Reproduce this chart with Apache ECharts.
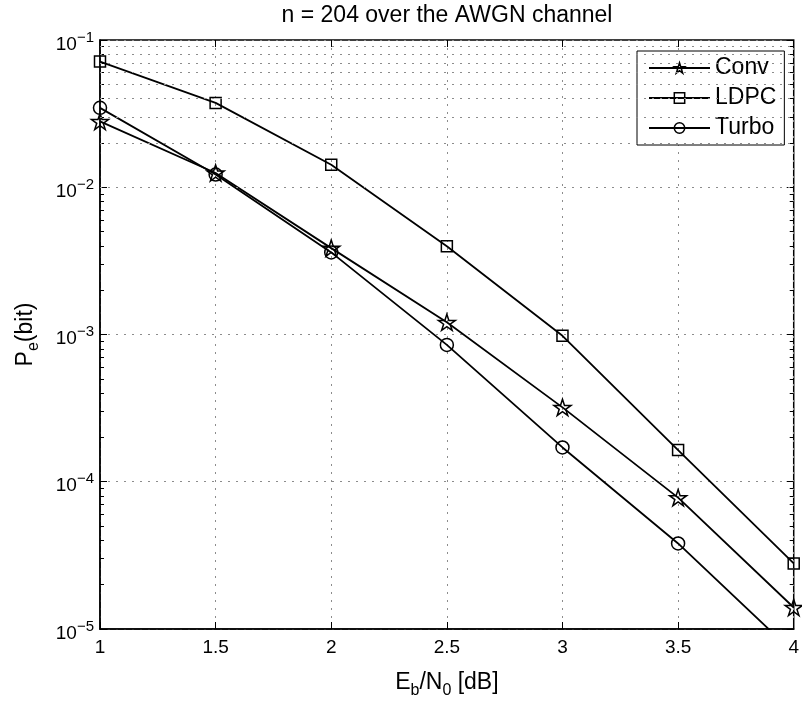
<!DOCTYPE html>
<html>
<head>
<meta charset="utf-8">
<title>n = 204 over the AWGN channel</title>
<script src="https://cdn.jsdelivr.net/npm/echarts@6/dist/echarts.min.js"></script>
<style>
  html, body { margin: 0; padding: 0; background: #fff; }
  #chart { width: 802px; height: 706px; }
</style>
</head>
<body>
<div id="chart"></div>
<script>
// Eb/N0 in dB
var ebn0 = [1, 1.5, 2, 2.5, 3, 3.5, 4];
// bit error probability per code
var convBer = [0.028, 0.0125, 0.00386, 0.00121, 3.2e-4, 7.8e-5, 1.4e-5];
var ldpcBer = [0.0714, 0.0374, 0.0142, 0.00397, 9.8e-4, 1.64e-4, 2.79e-5];
var turboBer = [0.0346, 0.0122, 0.00361, 8.5e-4, 1.71e-4, 3.81e-5, 6.9e-6];
var decadeExps = [-5, -4, -3, -2];

// minor log positions 2..9 x 10^k
var minorVals = [];
decadeExps.forEach(function (k) {
  for (var m = 2; m <= 9; m++) {
    minorVals.push(+(m * Math.pow(10, k)).toPrecision(3));
  }
});

function pairs(ys) {
  return ebn0.map(function (x, i) { return [x, ys[i]]; });
}

var star = 'path://M50,0L61.23,34.55L97.55,34.55L68.17,55.9L79.39,90.45L50,69.1L20.61,90.45L31.83,55.9L2.45,34.55L38.77,34.55Z';
var hollow = { color: 'rgba(0,0,0,0)', borderColor: '#000', borderWidth: 1.5 };
var blackLine = { color: '#000', width: 1.8, type: 'solid' };
var dotted = { color: '#8c8c8c', width: 1, type: [2, 6] };

var chart = echarts.init(document.getElementById('chart'));

var option = {
  animation: false,
  backgroundColor: '#fff',
  textStyle: { fontFamily: 'Liberation Sans, Arial, sans-serif', color: '#000' },
  title: {
    text: 'n = 204 over the AWGN channel',
    left: 447,
    top: 4,
    padding: 0,
    textAlign: 'center',
    textStyle: { fontSize: 23, fontWeight: 'normal', color: '#000' }
  },
  legend: {
    orient: 'vertical',
    left: 637,
    top: 51,
    padding: [5, 8, 5, 11],
    itemWidth: 61,
    itemHeight: 13,
    itemGap: 6,
    borderColor: '#000',
    borderWidth: 1,
    backgroundColor: '#fff',
    itemStyle: { color: 'rgba(0,0,0,0)', borderColor: '#000', borderWidth: 1.5 },
    lineStyle: { color: '#000', width: 2, type: 'solid' },
    textStyle: { fontSize: 23, lineHeight: 24, color: '#000' },
    data: ['Conv', 'LDPC', 'Turbo']
  },
  grid: {
    left: 100,
    right: 7,
    top: 40,
    bottom: 77,
    show: true,
    borderColor: '#000',
    borderWidth: 1.5,
    backgroundColor: 'rgba(0,0,0,0)'
  },
  xAxis: [
    {
      type: 'value',
      min: 1,
      max: 4,
      interval: 0.5,
      name: '{a|E}{sub|b}{a|/N}{sub|0}{a| [dB]}',
      nameLocation: 'middle',
      nameGap: 42,
      nameTextStyle: {
        rich: {
          a: { fontSize: 23, lineHeight: 26, verticalAlign: 'top', color: '#000' },
          sub: { fontSize: 16, lineHeight: 16, padding: [12, 0, 0, 0], verticalAlign: 'top', color: '#000' }
        }
      },
      axisLine: { show: true, lineStyle: { color: '#000', width: 1.5 } },
      axisTick: { inside: true, length: 7, lineStyle: { color: '#000', width: 1 } },
      axisLabel: { fontSize: 19, margin: 9, color: '#000' },
      splitLine: { show: true, lineStyle: dotted }
    },
    {
      type: 'value',
      position: 'top',
      min: 1,
      max: 4,
      interval: 0.5,
      axisLine: { show: false },
      axisTick: { inside: true, length: 7, lineStyle: { color: '#000', width: 1 } },
      axisLabel: { show: false },
      splitLine: { show: false }
    }
  ],
  yAxis: [
    {
      type: 'log',
      logBase: 10,
      min: 1e-5,
      max: 1e-1,
      name: '{a|P}{sub|e}{a|(bit)}',
      nameLocation: 'middle',
      nameGap: 60,
      nameTextStyle: {
        rich: {
          a: { fontSize: 23, lineHeight: 26, verticalAlign: 'top', color: '#000' },
          sub: { fontSize: 16, lineHeight: 16, padding: [12, 0, 0, 0], verticalAlign: 'top', color: '#000' }
        }
      },
      axisLine: { show: true, lineStyle: { color: '#000', width: 1.5 } },
      axisTick: { inside: true, length: 7, lineStyle: { color: '#000', width: 1 } },
      axisLabel: {
        margin: 6,
        formatter: function (v) {
          var e = Math.round(Math.log10(v));
          return '{b|10}{s|\u2212' + Math.abs(e) + '}';
        },
        color: '#000',
        rich: {
          b: { fontSize: 19, lineHeight: 20, padding: [5, 0, 3, 0], verticalAlign: 'top' },
          s: { fontSize: 15, lineHeight: 16, verticalAlign: 'top' }
        }
      },
      splitLine: { show: true, lineStyle: dotted }
    },
    {
      type: 'log',
      logBase: 10,
      min: 1e-5,
      max: 1e-1,
      position: 'right',
      axisLine: { show: false },
      axisTick: { inside: true, length: 7, lineStyle: { color: '#000', width: 1 } },
      axisLabel: { show: false },
      splitLine: { show: false }
    },
    {
      type: 'log',
      logBase: 10,
      min: 1e-5,
      max: 1e-1,
      position: 'left',
      axisLine: { show: false },
      axisTick: { inside: true, length: 4, customValues: minorVals, lineStyle: { color: '#000', width: 1 } },
      axisLabel: { show: false },
      splitLine: { show: false }
    },
    {
      type: 'log',
      logBase: 10,
      min: 1e-5,
      max: 1e-1,
      position: 'right',
      axisLine: { show: false },
      axisTick: { inside: true, length: 4, customValues: minorVals, lineStyle: { color: '#000', width: 1 } },
      axisLabel: { show: false },
      splitLine: { show: false }
    }
  ],
  series: [
    {
      name: 'Conv',
      type: 'line',
      data: pairs(convBer),
      symbol: star,
      symbolSize: 17,
      symbolKeepAspect: true,
      lineStyle: blackLine,
      itemStyle: hollow,
      z: 3,
      markLine: {
        silent: true,
        symbol: ['none', 'none'],
        label: { show: false },
        lineStyle: dotted,
        emphasis: { disabled: true },
        data: minorVals.map(function (v) { return { yAxis: v }; })
      }
    },
    {
      name: 'LDPC',
      type: 'line',
      data: pairs(ldpcBer),
      symbol: 'rect',
      symbolSize: 11,
      lineStyle: blackLine,
      itemStyle: hollow,
      z: 3
    },
    {
      name: 'Turbo',
      type: 'line',
      data: pairs(turboBer),
      symbol: 'circle',
      symbolSize: 13,
      lineStyle: blackLine,
      itemStyle: hollow,
      z: 3
    }
  ]
};

chart.setOption(option);
</script>
</body>
</html>
